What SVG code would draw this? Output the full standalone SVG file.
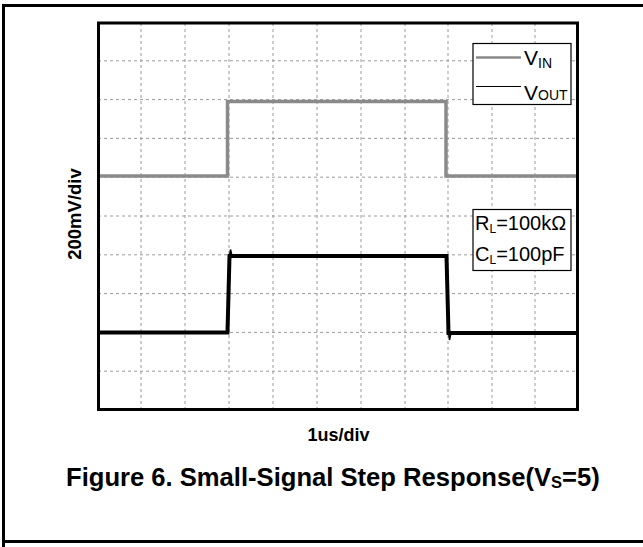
<svg xmlns="http://www.w3.org/2000/svg" width="643" height="547" viewBox="0 0 643 547">
<style>
.grid{stroke:#9a9a9a;stroke-width:1;stroke-dasharray:3,3;fill:none}
.t{font-family:"Liberation Sans",Arial,sans-serif;fill:#000}
.b{font-weight:bold}
</style>
<rect x="0" y="0" width="643" height="547" fill="#fff"/>
<g id="outer-border" fill="none" stroke="#000" stroke-width="3">
<path d="M3.5,547 V5.5 H643"/>
<path d="M3.5,541.5 H643"/>
</g>
<g id="grid" class="grid">
<path d="M141,23V409M185,23V409M229,23V409M273,23V409M317,23V409M361,23V409M405,23V409M448,23V409M492,23V409M535,23V409"/>
<path d="M98,60.8H577M98,99.6H577M98,138.4H577M98,177.2H577M98,216H577M98,254.8H577M98,293.6H577M98,332.4H577M98,371.2H577"/>
</g>
<g id="traces">
<path id="vin" d="M98,176H227.5V101.5H446V176H578" fill="none" stroke="#8a8a8a" stroke-width="3.5"/>
<path d="M227.5,176V101.5M446,101.5V176" stroke="#8a8a8a" stroke-width="2"/>
<path id="vout" d="M98,332.5H227.5L229.5,256H446.5L448.5,333H578" fill="none" stroke="#000" stroke-width="4"/>
<path d="M229.5,256L230.5,249.5L232,256M448.5,333L449.5,340L451,333" fill="none" stroke="#000" stroke-width="1.5"/>
</g>
<g id="plot-frame">
<rect x="98.5" y="23" width="479" height="386.5" fill="none" stroke="#000" stroke-width="3"/>
</g>
<g id="legend">
<rect x="473" y="43.5" width="98" height="61" fill="#fff" stroke="#000" stroke-width="1.2"/>
<line x1="476" y1="57.5" x2="521" y2="57.5" stroke="#8a8a8a" stroke-width="2.5"/>
<line x1="476" y1="86.5" x2="521" y2="86.5" stroke="#000" stroke-width="1.2"/>
<text class="t" x="524" y="65" font-size="21">V<tspan font-size="14" dy="3">IN</tspan></text>
<text class="t" x="524" y="100" font-size="21">V<tspan font-size="14" dy="0">OUT</tspan></text>
</g>
<g id="conditions">
<rect x="473" y="209.5" width="98" height="61" fill="#fff" stroke="#000" stroke-width="1.2"/>
<text class="t" x="475" y="230" font-size="20">R<tspan font-size="12" dy="3">L</tspan><tspan dy="-3">=100kΩ</tspan></text>
<text class="t" x="475" y="261" font-size="20">C<tspan font-size="12" dy="3">L</tspan><tspan dy="-3">=100pF</tspan></text>
</g>
<g id="axis-labels">
<text class="t b" font-size="18.5" transform="translate(80.5,214) rotate(-90)" text-anchor="middle">200mV/div</text>
<text class="t b" x="338.5" y="441" font-size="18" text-anchor="middle">1us/div</text>
</g>
<g id="caption">
<text class="t b" x="66" y="486" font-size="25.6">Figure 6. Small-Signal Step Response(V<tspan font-size="16.5" dy="2">S</tspan><tspan dy="-2">=5)</tspan></text>
</g>
</svg>
